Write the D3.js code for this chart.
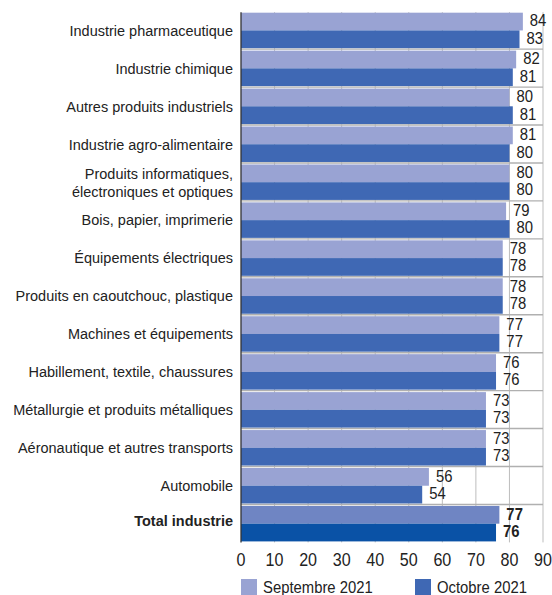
<!DOCTYPE html>
<html>
<head>
<meta charset="utf-8">
<script src="https://cdn.jsdelivr.net/npm/d3@7"></script>
<style>
  body { margin: 0; background: #fff; }
  svg text { font-family: "Liberation Sans", Arial, sans-serif; fill: #222; }
</style>
</head>
<body>
<svg id="chart" width="552" height="595"></svg>
<script>
// Taux d'utilisation des capacités de production par secteur (%)
const categories = [
  ["Industrie pharmaceutique"],
  ["Industrie chimique"],
  ["Autres produits industriels"],
  ["Industrie agro-alimentaire"],
  ["Produits informatiques,", "électroniques et optiques"],
  ["Bois, papier, imprimerie"],
  ["Équipements électriques"],
  ["Produits en caoutchouc, plastique"],
  ["Machines et équipements"],
  ["Habillement, textile, chaussures"],
  ["Métallurgie et produits métalliques"],
  ["Aéronautique et autres transports"],
  ["Automobile"],
  ["Total industrie"]
];
const septembre = [84, 82, 80, 81, 80, 79, 78, 78, 77, 76, 73, 73, 56, 77];
const octobre   = [83, 81, 81, 80, 80, 80, 78, 78, 77, 76, 73, 73, 54, 76];
const xTicks = [0, 10, 20, 30, 40, 50, 60, 70, 80, 90];
const seriesNames = ["Septembre 2021", "Octobre 2021"];

const colors = { sept: "#99a3d3", oct: "#3f68b4", septTotal: "#6f85c3", octTotal: "#0a52a6" };

const svg = d3.select("#chart");
const plotLeft = 241, plotRight = 543, plotTop = 11.2, plotBottom = 542.4;

const x = d3.scaleLinear().domain([0, 90]).range([plotLeft, plotRight]);
const y = d3.scaleBand().domain(d3.range(categories.length)).range([plotTop, plotBottom]).paddingInner(0).paddingOuter(0);
const inner = d3.scaleBand().domain([0, 1]).range([0, y.bandwidth()]).paddingOuter(0.07).align(0.6).paddingInner(0);

// condensed text: horizontal squeeze around the anchor point
function squeezed(sel, sx) {
  sel.attr("transform", function() {
    const tx = +d3.select(this).attr("x");
    return `translate(${tx * (1 - sx)},0) scale(${sx},1)`;
  });
}

// vertical gridlines
svg.append("g").selectAll("line").data(xTicks.slice(1)).join("line")
  .attr("x1", d => x(d)).attr("x2", d => x(d))
  .attr("y1", plotTop + 1).attr("y2", plotBottom)
  .attr("stroke", "#bdbdbd").attr("stroke-width", 1);

// horizontal separators between groups
svg.append("g").selectAll("line").data(d3.range(1, categories.length)).join("line")
  .attr("x1", plotLeft).attr("x2", plotRight)
  .attr("y1", d => y(d)).attr("y2", d => y(d))
  .attr("stroke", "#b0b0b0").attr("stroke-width", 1.4);

const last = categories.length - 1;
const rows = svg.append("g").selectAll("g").data(categories).join("g")
  .attr("transform", (d, i) => `translate(0,${y(i)})`);

rows.append("rect")
  .attr("x", plotLeft).attr("y", inner(0))
  .attr("width", (d, i) => x(septembre[i]) - plotLeft)
  .attr("height", inner.bandwidth())
  .attr("fill", (d, i) => i === last ? colors.septTotal : colors.sept);

rows.append("rect")
  .attr("x", plotLeft).attr("y", inner(1))
  .attr("width", (d, i) => x(octobre[i]) - plotLeft)
  .attr("height", inner.bandwidth())
  .attr("fill", (d, i) => i === last ? colors.octTotal : colors.oct);

// value labels
rows.append("text")
  .attr("x", (d, i) => x(septembre[i]) + 7)
  .attr("y", inner(0) + inner.bandwidth() / 2 - 1)
  .attr("dy", "0.36em")
  .attr("font-size", 16.5)
  .attr("font-weight", (d, i) => i === last ? "bold" : "normal")
  .text((d, i) => septembre[i])
  .call(squeezed, 0.9);

rows.append("text")
  .attr("x", (d, i) => x(octobre[i]) + 7)
  .attr("y", inner(1) + inner.bandwidth() / 2 - 1.5)
  .attr("dy", "0.36em")
  .attr("font-size", 16.5)
  .attr("font-weight", (d, i) => i === last ? "bold" : "normal")
  .text((d, i) => octobre[i])
  .call(squeezed, 0.9);

// category labels
rows.append("text")
  .attr("text-anchor", "end")
  .attr("x", 233)
  .attr("font-size", 15.5)
  .attr("font-weight", (d, i) => i === last ? "bold" : "normal")
  .each(function(d, i) {
    const t = d3.select(this);
    const h = y.bandwidth();
    const lh = 18;
    const start = h / 2 - (d.length - 1) * lh / 2 - (i === last ? 3 : 0);
    d.forEach((line, k) => {
      t.append("tspan").attr("x", 233).attr("y", start + k * lh).attr("dy", "0.36em").text(line);
    });
  })
  .call(squeezed, 0.935);

// axis line
svg.append("line")
  .attr("x1", plotLeft).attr("x2", plotLeft).attr("y1", plotTop + 1).attr("y2", plotBottom)
  .attr("stroke", "#333").attr("stroke-width", 1.3);

// x axis
const xAxis = d3.axisBottom(x).tickValues(xTicks).tickSize(0).tickPadding(11);
const ax = svg.append("g").attr("transform", `translate(0,${plotBottom})`).call(xAxis);
ax.select(".domain").remove();
ax.attr("font-family", null).attr("font-size", null);
ax.selectAll("text").attr("font-size", 17.5).attr("fill", "#222")
  .attr("transform", "scale(0.92,1)");
ax.selectAll(".tick").attr("transform", d => `translate(${x(d)},0)`);

// legend
const legend = svg.append("g").attr("transform", "translate(0,579)");
const legendX = [241, 415];
const legendColors = [colors.sept, colors.oct];
seriesNames.forEach((name, i) => {
  legend.append("rect").attr("x", legendX[i]).attr("y", 0).attr("width", 16).attr("height", 16).attr("fill", legendColors[i]);
  legend.append("text").attr("x", legendX[i] + 22).attr("y", 14)
    .attr("font-size", 16.5).text(name)
    .call(squeezed, 0.9);
});
</script>
</body>
</html>
